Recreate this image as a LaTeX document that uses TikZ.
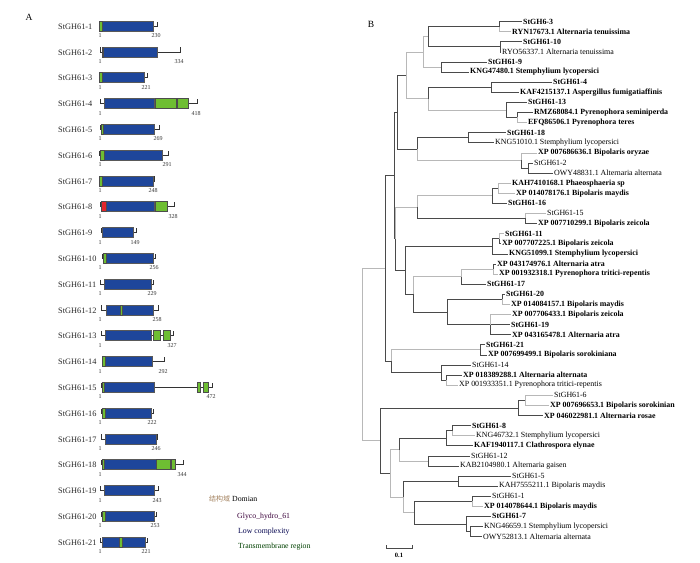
\documentclass[tikz,border=0pt]{standalone}
\usepackage{fontspec}
\setmainfont{Liberation Serif}
\newfontfamily\cjkfont{Noto Sans CJK SC}
\usepackage{tikz}
\usetikzlibrary{calc}
\definecolor{ghblue}{HTML}{1E469B}
\definecolor{lcgreen}{HTML}{6EBE32}
\definecolor{tmred}{HTML}{E3262B}
\definecolor{brdark}{HTML}{4A4A4A}
\definecolor{brlight}{HTML}{B8B8B8}
\tikzset{
  br/.style={draw=brdark,line width=0.6pt},
  brl/.style={draw=brlight,line width=0.6pt},
  leaf/.style={anchor=west,inner sep=1pt,font=\fontsize{7.9}{8}\selectfont},
  rowname/.style={anchor=west,inner sep=0pt,text=black!85,font=\fontsize{8.3}{9}\selectfont},
  aanum/.style={inner sep=0pt,text=black!80,font=\fontsize{6}{6}\selectfont},
  chain/.style={draw=black!80,line width=0.6pt},
  ghbox/.style={fill=ghblue,draw=black!65,line width=0.4pt},
  lcbox/.style={fill=lcgreen,draw=black!70,line width=0.4pt},
  tmbox/.style={fill=tmred,draw=black!70,line width=0.4pt},
  legend/.style={anchor=west,inner sep=0pt,font=\fontsize{7.8}{9}\selectfont},
  panel/.style={inner sep=0pt,font=\fontsize{9.5}{10}\selectfont},
}
\begin{document}
\begin{tikzpicture}[x=1pt,y=-1pt]
        \useasboundingbox (0,0) rectangle (700,562);
        % Panel letters
        \node[panel] (panA) at (29,17) {A};
        \node[panel] (panB) at (371,24) {B};
        % Protein chains with start and end
        \foreach \s/\e/\n [count=\r] in {99/157/230, 100/180/334, 99/147/221, 100.5/197/418, 100/159/269,
            99/168/291, 99/154/248, 100/174/328, 101/136/149, 102/155/256, 100/153/229, 101/158/258,
            101/173/327, 102/164/292, 101/212/472, 101/153/222, 101/157/246, 101.5/183/344,
            100/158/243, 101/156/253, 100/147/221}{
            \pgfmathsetmacro\yc{26+(\r-1)*25.8}
            \draw[chain](\s,\yc-4.5)--(\s,\yc)--(\e,\yc)--(\e,\yc-4.5);
            \node[rowname] (row\r) at (58,\yc+0.5) {StGH61-\r};
            \node[aanum] (st\r) at (100,\yc+9.8) {1};
            \node[aanum] (en\r) at (\e-1,\yc+9.8) {\n};
        }
        % Glyco_hydro_61 domains
        \foreach \r/\a/\b in {1/102/153, 2/103.5/157, 3/102/144, 4/104/154, 5/103.3/154, 6/104/162,
            7/102/153, 8/106/154, 9/102/133, 10/106/153, 11/104/151, 12/106/153, 13/105/151,
            14/105/152, 15/104/154, 16/105/151, 17/105/156, 18/104/156, 19/104/154, 20/105/154, 21/102/145}{
            \pgfmathsetmacro\yc{26+(\r-1)*25.8}
            \draw[ghbox](\a,\yc-5) rectangle (\b,\yc+5);
        }
        % Low complexity regions
        \foreach \r/\a/\b in {1/99/102, 2/102/103.5, 3/99/102, 4/155/176, 4/177/188, 5/101/103.3, 6/100/104,
            7/99/102, 8/155/167, 10/103.5/106, 12/120/122, 13/153/160, 13/163/170, 14/102/105,
            15/102/104, 15/197/200, 15/203/208, 16/102/105, 18/102/104, 18/156/170, 18/171/175,
            20/102/105, 21/119/122}{
            \pgfmathsetmacro\yc{26+(\r-1)*25.8}
            \draw[lcbox](\a,\yc-5) rectangle (\b,\yc+5);
        }
        % Transmembrane region
        \draw[tmbox](101,201.6) rectangle (106,211.6);
        % Legend
        \node[legend] (lgdom) at (209,499) {\textcolor{brown!55!gray}{\cjkfont\fontsize{7}{8}\selectfont 结构域} Domian};
        \node[legend,text=violet!45!black] (lggh) at (237,517) {Glyco\_hydro\_61};
        \node[legend,text=blue!30!black] (lglc) at (238,532) {Low complexity};
        \node[legend,text=green!25!black] (lgtm) at (238,547) {Transmembrane region};
        % Leaves
        \foreach \x/\f/\txt [count=\i] in {522/b/StGH6-3, 511/b/RYN17673.1 Alternaria tenuissima,
            522/b/StGH61-10, 501/r/RYO56337.1 Alternaria tenuissima, 487/b/StGH61-9,
            469/b/KNG47480.1 Stemphylium lycopersici, 552/b/StGH61-4,
            519/b/KAF4215137.1 Aspergillus fumigatiaffinis, 527/b/StGH61-13,
            533/b/RMZ68084.1 Pyrenophora seminiperda, 527/b/EFQ86506.1 Pyrenophora teres,
            506/b/StGH61-18, 494/r/KNG51010.1 Stemphylium lycopersici,
            537/b/XP 007686636.1 Bipolaris oryzae, 533/r/StGH61-2, 553/r/OWY48831.1 Alternaria alternata,
            511/b/KAH7410168.1 Phaeosphaeria sp, 515/b/XP 014078176.1 Bipolaris maydis,
            507/b/StGH61-16, 546/r/StGH61-15, 537/b/XP 007710299.1 Bipolaris zeicola,
            504/b/StGH61-11, 501/b/XP 007707225.1 Bipolaris zeicola,
            508/b/KNG51099.1 Stemphylium lycopersici, 496/b/XP 043174976.1 Alternaria atra,
            498/b/XP 001932318.1 Pyrenophora tritici-repentis, 486/b/StGH61-17, 505/b/StGH61-20,
            510/b/XP 014084157.1 Bipolaris maydis, 511/b/XP 007706433.1 Bipolaris zeicola,
            510/b/StGH61-19, 511/b/XP 043165478.1 Alternaria atra, 485/b/StGH61-21,
            487/b/XP 007699499.1 Bipolaris sorokiniana, 471/r/StGH61-14,
            462/b/XP 018389288.1 Alternaria alternata, 458/r/XP 001933351.1 Pyrenophora tritici-repentis,
            553/r/StGH61-6, 549/b/XP 007696653.1 Bipolaris sorokinian, 543/b/XP 046022981.1 Alternaria rosae,
            471/b/StGH61-8, 475/r/KNG46732.1 Stemphylium lycopersici, 473/b/KAF1940117.1 Clathrospora elynae,
            470/r/StGH61-12, 459/r/KAB2104980.1 Alternaria gaisen, 511/r/StGH61-5,
            498/r/KAH7555211.1 Bipolaris maydis, 491/r/StGH61-1, 483/b/XP 014078644.1 Bipolaris maydis,
            491/b/StGH61-7, 483/r/KNG46659.1 Stemphylium lycopersici, 482/r/OWY52813.1 Alternaria alternata}{
            \node[leaf] (t\i) at (\x,{21.5+(\i-1)*10.1}) {\if\f b\bfseries\fi\txt};
        }
        % Inner nodes
        \coordinate (a1) at (499,26.55);   \coordinate (a2) at (500,46.75);
        \coordinate (a3) at (428,36.65);   \coordinate (a4) at (441,66.95);
        \coordinate (a5) at (423,51.8);    \coordinate (b1) at (491,87.15);
        \coordinate (b2a) at (517,117.45); \coordinate (b2) at (506,109.9);
        \coordinate (b3) at (428,98.5);    \coordinate (c1) at (406,75.15);
        \coordinate (d1) at (468,137.65);  \coordinate (d2a) at (528,167.95);
        \coordinate (d2) at (521,160.4);   \coordinate (d3) at (417,149);
        \coordinate (c2) at (397,112.1);   \coordinate (e1) at (498,188.15);
        \coordinate (e2) at (492,195.7);   \coordinate (e3) at (525,218.45);
        \coordinate (e4) at (417,207.1);   \coordinate (f1) at (499,238.65);
        \coordinate (f2) at (492,246.2);   \coordinate (f3) at (493,268.95);
        \coordinate (f4) at (461,276.5);   \coordinate (g1) at (502,299.25);
        \coordinate (g2) at (490,324.5);   \coordinate (g3) at (447,311.9);
        \coordinate (f5) at (413,294.2);   \coordinate (f6) at (405,270.2);
        \coordinate (cx) at (395.5,238.65);\coordinate (c3) at (394,175.4);
        \coordinate (h1) at (480,349.75);  \coordinate (h2a) at (446,380.05);
        \coordinate (h2) at (441,372.5);   \coordinate (h3) at (391,361.1);
        \coordinate (j) at (385,268.25);   \coordinate (l1a) at (525,400.25);
        \coordinate (l1) at (518,407.8);   \coordinate (n1a) at (452,430.55);
        \coordinate (n1) at (446,438.1);   \coordinate (n2) at (428,460.85);
        \coordinate (nn) at (399,449.5);   \coordinate (p1) at (458,481.05);
        \coordinate (p2a) at (472,501.25); \coordinate (p2bb) at (470,531.55);
        \coordinate (p2b) at (466,523.95); \coordinate (p2) at (414,512.6);
        \coordinate (pp) at (403,496.8);   \coordinate (m) at (390,473.15);
        \coordinate (k) at (380,440.5);    \coordinate (root) at (362,354.4);
        % Dark branches
        \foreach \u/\v in {a1/t1, a2/t3, a2/t4, a3/a1, a3/a2, a4/t5, a4/t6, b1/t7, b1/t8, b2a/t10,
            b2/t9, b2/b2a, b3/b1, d1/t12, d1/t13, d2a/t15, d2a/t16, d2/d2a, d3/d1, c2/c1, c2/d3,
            e2/e1, e2/t19, e3/t21, e4/e3, f1/t23, f2/f1, f2/t24, f3/t25, f4/t27, g1/t28, g2/t31,
            g2/t32, g3/g1, g3/g2, f5/g3, f6/f2, f6/f5, cx/f6, c3/c2, c3/cx, h1/t33, h1/t34,
            h2a/t36, h2/t35, h2/h2a, h3/h2, j/c3, j/h3, l1/l1a, l1/t40, n1a/t41, n1/n1a, n1/t43,
            n2/t44, n2/t45, nn/n1, p1/t46, p1/t47, p2a/t48, p2bb/t51, p2bb/t52, p2b/t50, p2b/p2bb,
            p2/p2a, p2/p2b, pp/p1, k/l1, k/m}
            \draw[br](\u)|-(\v);
        % Light branches
        \foreach \u/\v in {a1/t2, a5/a3, a5/a4, b2a/t11, b3/b2, c1/a5, c1/b3, d2/t14, d3/d2,
            e1/t17, e1/t18, e3/t20, e4/e2, f1/t22, f3/t26, f4/f3, g1/t29, g2/t30, f5/f4, cx/e4,
            h2a/t37, h3/h1, l1a/t38, l1a/t39, n1a/t42, nn/n2, p2a/t49, pp/p2, m/nn, m/pp,
            root/j, root/k}
            \draw[brl](\u)|-(\v);
        % Scale bar
        \draw[br](386,545)coordinate(sc1)--(386,548)--(412,548)--(412,545)coordinate(sc2);
        \node[inner sep=0pt,font=\fontsize{6.5}{7}\selectfont\bfseries] (scl) at (399,555) {0.1};
\end{tikzpicture}
\end{document}
